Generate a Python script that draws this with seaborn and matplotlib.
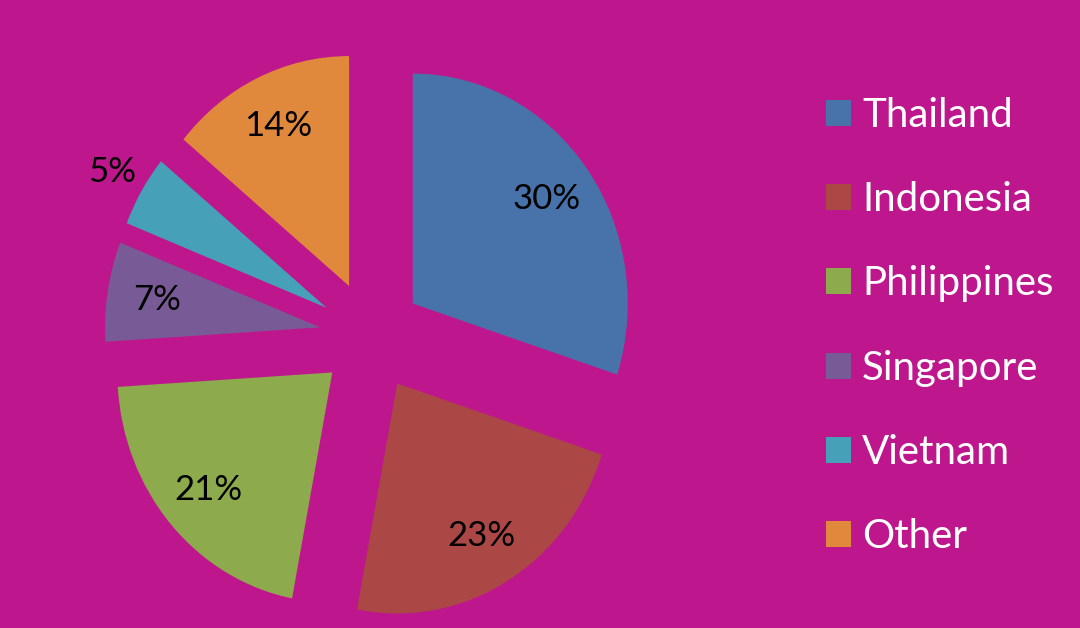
import matplotlib
matplotlib.use("Agg")
import matplotlib.pyplot as plt
import seaborn as sns
from matplotlib.patches import Patch

# data
countries = ["Thailand", "Indonesia", "Philippines", "Singapore", "Vietnam", "Other"]
shares = [30, 23, 21, 7, 5, 14]
slice_colors = ["#4873AA", "#AB4744", "#8DAA4C", "#785A96", "#46A0B8", "#E0883C"]

bg = "#BE178D"

sns.set_theme(style="white")
plt.rcParams["font.family"] = ["Lato", "DejaVu Sans"]

palette = sns.color_palette(slice_colors)

fig = plt.figure(figsize=(10.8, 6.28), dpi=100, facecolor=bg)
ax = fig.add_axes([0, 0, 1, 1])
ax.set_facecolor(bg)

explode = [0.24] * len(shares)
wedges, texts, autotexts = ax.pie(
    shares, explode=explode, colors=palette, startangle=90, counterclock=False,
    autopct="%d%%", pctdistance=0.77, radius=1.0,
    wedgeprops=dict(linewidth=0, edgecolor="none"),
    textprops=dict(color="black", fontsize=25),
)

# Vietnam's label sits outside its slice
vt = autotexts[4]
x, y = vt.get_position()
k = (0.24 + 1.16) / (0.24 + 0.77)
vt.set_position((x * k, y * k))

# the source picture is a little stretched vertically
ax.set_xlim(-1.726, 3.298)
ax.set_ylim(-1.270, 1.461)
ax.set_aspect("auto")
ax.axis("off")

handles = [Patch(facecolor=c, edgecolor="none") for c in palette]
leg = fig.legend(handles, countries, loc="upper left", bbox_to_anchor=(0.746, 0.878),
                 frameon=False, fontsize=29, labelcolor="white",
                 handlelength=0.62, handleheight=0.62, handletextpad=0.28,
                 labelspacing=1.175, borderpad=0)

fig.savefig("out.png", dpi=100, facecolor=bg)
